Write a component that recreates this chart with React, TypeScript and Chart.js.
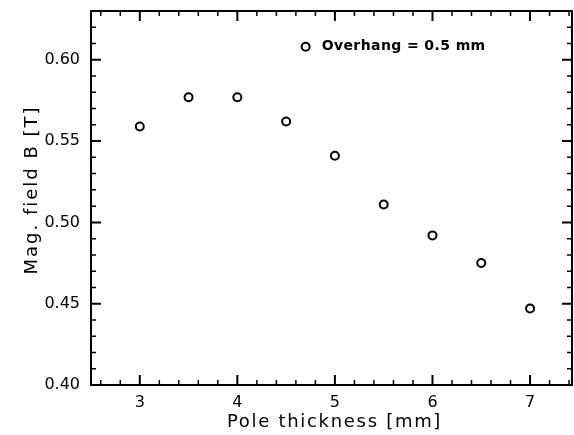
import React, { useEffect, useRef } from "react";
import { Chart, registerables } from "chart.js";

Chart.register(...registerables);

const thickness = [3, 3.5, 4, 4.5, 5, 5.5, 6, 6.5, 7];
const fieldB = [0.559, 0.577, 0.577, 0.562, 0.541, 0.511, 0.492, 0.475, 0.447];
const xTickValues = [3, 4, 5, 6, 7];
const yTickValues = [0.4, 0.45, 0.5, 0.55, 0.6];
const seriesLabel = "Overhang = 0.5 mm";
const xTitle = "Pole thickness [mm]";
const yTitle = "Mag. field B [T]";

const FONT = "'DejaVu Sans', sans-serif";

const zeroPadding = (s: any) => {
  s.paddingTop = 0;
  s.paddingBottom = 0;
  s.paddingLeft = 0;
  s.paddingRight = 0;
};

const framePlugin = {
  id: "frameTicks",
  afterDatasetsDraw(chart: any) {
    const { ctx, chartArea: a, scales } = chart;
    const xs = scales.x;
    const ys = scales.y;
    ctx.save();
    ctx.strokeStyle = "#000";
    ctx.lineWidth = 2;
    ctx.strokeRect(a.left, a.top, a.right - a.left, a.bottom - a.top);
    const major = 10;
    const minor = 5;
    for (let i = 0; i <= 50; i++) {
      const v = 2.6 + i * 0.2;
      if (v > xs.max + 1e-9) break;
      const isMajor = Math.abs(v - Math.round(v)) < 1e-6;
      const px = xs.getPixelForValue(v);
      const len = isMajor ? major : minor;
      ctx.lineWidth = isMajor ? 2 : 1.5;
      ctx.beginPath();
      ctx.moveTo(px, a.bottom);
      ctx.lineTo(px, a.bottom - len);
      ctx.moveTo(px, a.top);
      ctx.lineTo(px, a.top + len);
      ctx.stroke();
    }
    for (let i = 1; i <= 30; i++) {
      const v = 0.4 + i * 0.01;
      if (v > ys.max + 1e-9) break;
      const isMajor = Math.abs(v * 20 - Math.round(v * 20)) < 1e-6;
      const py = ys.getPixelForValue(v);
      const len = isMajor ? major : minor;
      ctx.lineWidth = isMajor ? 2 : 1.5;
      ctx.beginPath();
      ctx.moveTo(a.left, py);
      ctx.lineTo(a.left + len, py);
      ctx.moveTo(a.right, py);
      ctx.lineTo(a.right - len, py);
      ctx.stroke();
    }
    // legend
    const lx = xs.getPixelForValue(4.7);
    const ly = ys.getPixelForValue(0.608);
    ctx.lineWidth = 2;
    ctx.beginPath();
    ctx.arc(lx, ly, 4, 0, Math.PI * 2);
    ctx.stroke();
    ctx.fillStyle = "#000";
    ctx.textBaseline = "middle";
    ctx.textAlign = "left";
    (ctx as any).letterSpacing = "0.4px";
    ctx.font = "bold 14px " + FONT;
    ctx.fillText(chart.data.datasets[0].label, lx + 16, ly);
    // axis titles
    ctx.font = "18px " + FONT;
    ctx.textAlign = "center";
    (ctx as any).letterSpacing = "1.7px";
    ctx.fillText(xTitle, (a.left + a.right) / 2 + 3, 422);
    (ctx as any).letterSpacing = "2px";
    ctx.translate(32, (a.top + a.bottom) / 2 - 8);
    ctx.rotate(-Math.PI / 2);
    ctx.fillText(yTitle, 0, 0);
    ctx.restore();
  },
};

export default function App() {
  const ref = useRef<HTMLCanvasElement>(null);
  useEffect(() => {
    const chart = new Chart(ref.current!, {
      type: "scatter",
      data: {
        datasets: [
          {
            label: seriesLabel,
            data: thickness.map((x, i) => ({ x, y: fieldB[i] })),
            pointStyle: "circle",
            pointRadius: 4,
            pointBorderWidth: 2,
            pointBorderColor: "#000",
            pointBackgroundColor: "rgba(0,0,0,0)",
            showLine: false,
          },
        ],
      },
      options: {
        animation: false,
        responsive: true,
        maintainAspectRatio: false,
        layout: { padding: { left: 0, top: 11, right: 2, bottom: 0 } },
        plugins: { legend: { display: false }, tooltip: { enabled: false } },
        scales: {
          x: {
            type: "linear",
            min: 2.5,
            max: 7.43,
            afterBuildTicks: (s: any) => {
              s.ticks = xTickValues.map((value) => ({ value }));
            },
            afterFit: (s: any) => {
              s.height = 50;
              zeroPadding(s);
            },
            grid: { display: false, drawTicks: false },
            border: { display: false },
            ticks: {
              color: "#000",
              padding: 8,
              font: { family: FONT, size: 16 },
              callback: (v: any) => String(v),
            },
            title: { display: false },
          },
          y: {
            type: "linear",
            min: 0.4,
            max: 0.63,
            afterBuildTicks: (s: any) => {
              s.ticks = yTickValues.map((value) => ({ value }));
            },
            afterFit: (s: any) => {
              s.width = 91;
              zeroPadding(s);
            },
            grid: { display: false, drawTicks: false },
            border: { display: false },
            ticks: {
              color: "#000",
              padding: 11,
              font: { family: FONT, size: 16 },
              callback: (v: any) => Number(v).toFixed(2),
            },
            title: { display: false },
          },
        },
      },
      plugins: [framePlugin],
    });
    return () => chart.destroy();
  }, []);
  return (
    <div style={{ position: "fixed", left: 0, top: 0, width: 578, height: 435, background: "#fff" }}>
      <canvas ref={ref} />
    </div>
  );
}
